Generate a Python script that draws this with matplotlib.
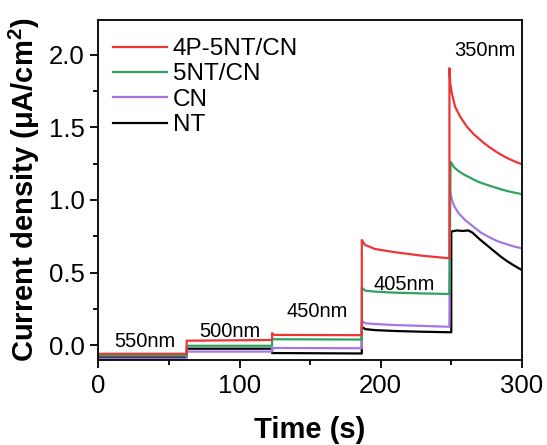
import matplotlib
matplotlib.use("Agg")
import matplotlib.pyplot as plt
from matplotlib.ticker import MultipleLocator

plt.rcParams['font.family'] = ['Liberation Sans', 'DejaVu Sans']
plt.rcParams['mathtext.fontset'] = 'custom'
plt.rcParams['mathtext.rm'] = 'Liberation Sans:bold'
plt.rcParams['mathtext.bf'] = 'Liberation Sans:bold'

# photocurrent traces under chopped monochromatic light
t_red = [0, 62.5, 62.5, 123, 123, 124.5, 186.6, 186.6, 188.9, 196, 210, 229, 248.7,
         248.7, 249.3, 250.4, 252.7, 256.3, 261, 265.7, 272.8, 277.5, 283, 289.4, 295, 300]
j_red = [-0.06, -0.06, 0.03, 0.035, 0.082, 0.07, 0.068, 0.724, 0.69, 0.662, 0.64, 0.616, 0.598,
         1.908, 1.80, 1.736, 1.643, 1.574, 1.506, 1.455, 1.395, 1.36, 1.325, 1.29, 1.265, 1.246]

t_green = [0, 62.5, 62.5, 123, 123, 186.6, 186.6, 189, 196, 210, 229, 248.7,
           249.5, 252, 255, 259, 263, 268, 272, 277.5, 283, 289.4, 295, 300]
j_green = [-0.071, -0.071, -0.005, -0.005, 0.04, 0.038, 0.395, 0.375, 0.368, 0.361, 0.356, 0.352,
           1.264, 1.225, 1.20, 1.175, 1.155, 1.13, 1.115, 1.097, 1.08, 1.062, 1.05, 1.04]

t_purple = [0, 62.5, 62.5, 123, 123, 186.6, 186.6, 189, 196, 210, 229, 248.7,
            249, 250.5, 252, 255, 260, 265.7, 271, 277.5, 283, 289.4, 295, 300]
j_purple = [-0.094, -0.094, -0.045, -0.045, -0.02, -0.022, 0.166, 0.15, 0.145, 0.138, 0.132, 0.126,
            1.069, 1.0, 0.96, 0.91, 0.86, 0.816, 0.775, 0.74, 0.715, 0.694, 0.678, 0.667]

t_black = [0, 62.5, 62.5, 123, 123, 186.6, 186.6, 189, 196, 210, 229, 250,
           250, 254, 258, 262, 265, 270, 275, 280, 285, 290, 295, 300]
j_black = [-0.085, -0.085, -0.025, -0.025, -0.055, -0.058, 0.126, 0.11, 0.103, 0.097, 0.092, 0.088,
           0.782, 0.79, 0.786, 0.79, 0.775, 0.73, 0.69, 0.65, 0.61, 0.575, 0.545, 0.517]

wl_labels = ['550nm', '500nm', '450nm', '405nm', '350nm']
wl_x = [33, 93, 155, 216.5, 274]
wl_y = [0.023, 0.092, 0.23, 0.42, 2.03]

fig = plt.figure(figsize=(5.47, 4.45), dpi=100)
ax = fig.add_axes([0.180, 0.191, 0.774, 0.764])

lw = 1.6
l_nt, = ax.plot(t_black, j_black, color='black', lw=lw, label='NT')
l_cn, = ax.plot(t_purple, j_purple, color='#a676e6', lw=lw, label='CN')
l_5nt, = ax.plot(t_green, j_green, color='#2ea35e', lw=lw, label='5NT/CN')
l_4p, = ax.plot(t_red, j_red, color='#ec3535', lw=lw, label='4P-5NT/CN')

for s, x, y in zip(wl_labels, wl_x, wl_y):
    ax.text(x, y, s, fontsize=14.5, ha='center', va='center')

ax.set_xlim(0, 300)
ax.set_ylim(-0.103, 2.24)
ax.xaxis.set_major_locator(MultipleLocator(100))
ax.xaxis.set_minor_locator(MultipleLocator(50))
ax.yaxis.set_major_locator(MultipleLocator(0.5))
ax.yaxis.set_minor_locator(MultipleLocator(0.25))
ax.tick_params(which='major', direction='out', length=6, width=1.3, labelsize=18.5, pad=4)
ax.tick_params(which='minor', direction='out', length=3.5, width=1.3)
for sp in ax.spines.values():
    sp.set_linewidth(1.3)

ax.set_xlabel('Time (s)', fontsize=21, fontweight='bold', labelpad=13)
ax.set_ylabel('Current density (μA/cm$^2$)', fontsize=21, fontweight='bold', labelpad=5)

ax.legend(handles=[l_4p, l_5nt, l_cn, l_nt], loc='upper left', fontsize=17.5, frameon=False,
          handlelength=2.2, handletextpad=0.25, labelspacing=0.14,
          borderaxespad=0.2, bbox_to_anchor=(0.0, 0.99))

fig.savefig('out.png', dpi=100)
